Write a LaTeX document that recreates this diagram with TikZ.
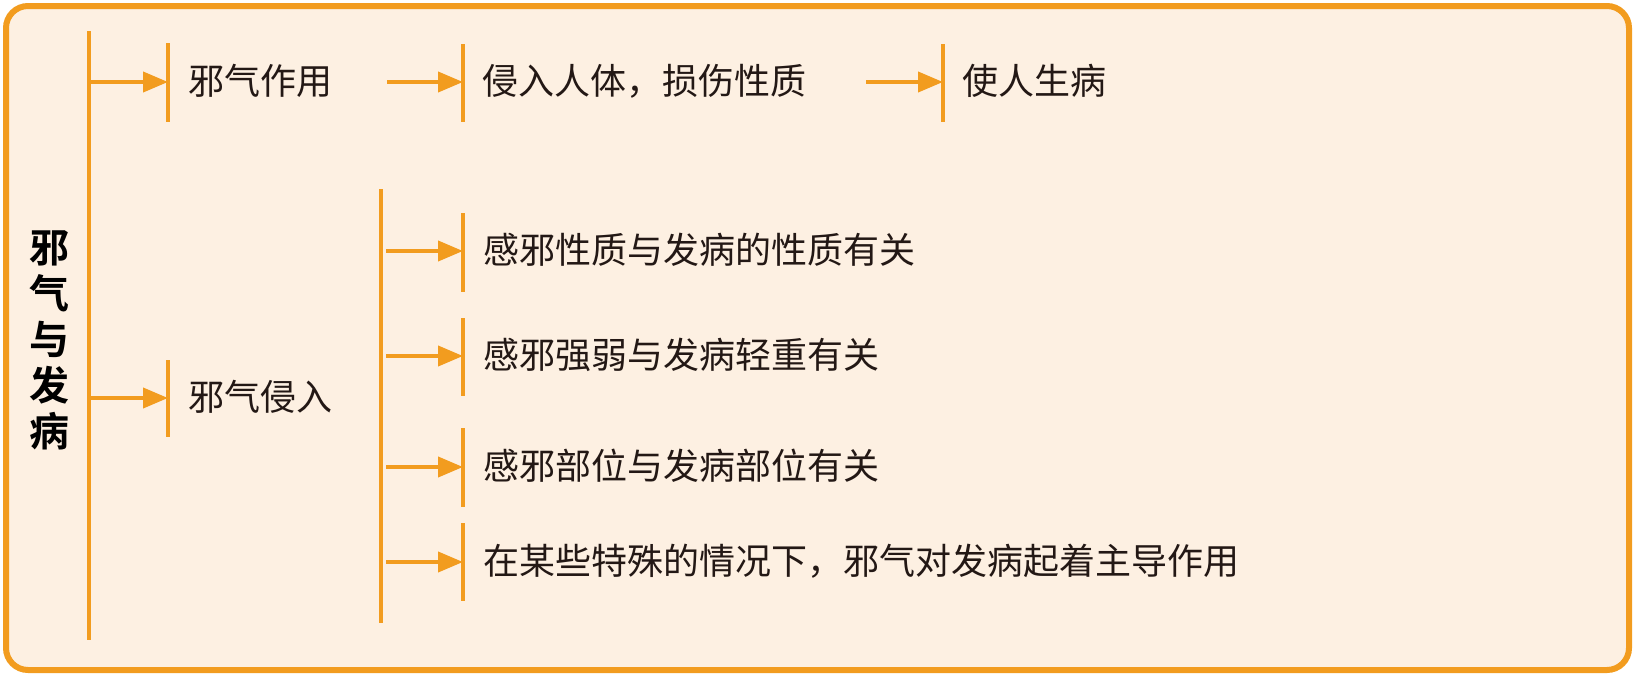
\documentclass[tikz,border=0pt]{standalone}
\usepackage{fontspec}
\newfontfamily\cjk[BoldFont={Noto Sans CJK SC Bold}]{Noto Sans CJK SC}
\usepackage{tikz}
\usetikzlibrary{arrows.meta, positioning}
\definecolor{xorange}{HTML}{F29C1F}
\definecolor{xfill}{HTML}{FDF0E2}
\definecolor{xtext}{HTML}{231815}
\tikzset{>={Triangle[length=25pt,width=20pt]}}
\tikzset{trunk/.style={draw=xorange, line width=4pt}, feed/.style={draw=xorange, fill=xorange, line width=4pt, ->}}

\begin{document}
\begin{tikzpicture}[x=1pt,y=-1pt]
		\useasboundingbox (0,0) rectangle (1634,675);
		\draw[xorange, fill=xfill, line width=6pt, rounded corners=22pt] (6,6) rectangle (1629,670);

		\node[font=\cjk\bfseries\fontsize{40}{46}\selectfont, align=center, inner sep=0pt] (root) at (50,340) {邪\\气\\与\\发\\病};

		\begin{scope}[every node/.append style={font=\cjk\fontsize{36}{46}\selectfont, text=xtext, inner sep=0pt, anchor=west, text height=30.2pt, text depth=4.3pt}]
			\node (a) at (188,82) {邪气作用};
			\node (a1) at (482,82) {侵入人体，损伤性质};
			\node (a2) at (962,82) {使人生病};
			\node (b) at (188,398) {邪气侵入};
			\node (b1) at (483,251) {感邪性质与发病的性质有关};
			\node (b2) at (483,356) {感邪强弱与发病轻重有关};
			\node (b3) at (483,467) {感邪部位与发病部位有关};
			\node (b4) at (483,562) {在某些特殊的情况下，邪气对发病起着主导作用};
		\end{scope}

		\coordinate (t0) at (89,31);
		\coordinate (t1) at (89,640);
		\coordinate (s0) at (381,189);
		\coordinate (s1) at (381,623);

		\draw[trunk] (t0) -- (t1);
		\draw[trunk] (s0) -- (s1);

		% bars in front of the texts
		\draw[trunk] ([xshift=-20pt,yshift=39pt]a.west) -- ([xshift=-20pt,yshift=-40pt]a.west);
		\draw[trunk] ([xshift=-19pt,yshift=38pt]a1.west) -- ([xshift=-19pt,yshift=-40pt]a1.west);
		\draw[trunk] ([xshift=-19pt,yshift=38pt]a2.west) -- ([xshift=-19pt,yshift=-40pt]a2.west);
		\draw[trunk] ([xshift=-20pt,yshift=38pt]b.west) -- ([xshift=-20pt,yshift=-39pt]b.west);
		\draw[trunk] ([xshift=-20pt,yshift=38pt]b1.west) -- ([xshift=-20pt,yshift=-41pt]b1.west);
		\draw[trunk] ([xshift=-20pt,yshift=38pt]b2.west) -- ([xshift=-20pt,yshift=-40pt]b2.west);
		\draw[trunk] ([xshift=-20pt,yshift=39pt]b3.west) -- ([xshift=-20pt,yshift=-40pt]b3.west);
		\draw[trunk] ([xshift=-20pt,yshift=39pt]b4.west) -- ([xshift=-20pt,yshift=-39pt]b4.west);

		\draw[feed] (t0 |- a.west) -- ([xshift=-20pt]a.west);
		\draw[feed] ([xshift=55pt]a.east) -- ([xshift=-19pt]a1.west);
		\draw[feed] ([xshift=60pt]a1.east) -- ([xshift=-19pt]a2.west);
		\draw[feed] (t0 |- b.west) -- ([xshift=-20pt]b.west);
		\draw[feed] ([xshift=5pt]s0 |- b1.west) -- ([xshift=-20pt]b1.west);
		\draw[feed] ([xshift=5pt]s0 |- b2.west) -- ([xshift=-20pt]b2.west);
		\draw[feed] ([xshift=5pt]s0 |- b3.west) -- ([xshift=-20pt]b3.west);
		\draw[feed] ([xshift=5pt]s0 |- b4.west) -- ([xshift=-20pt]b4.west);
	\end{tikzpicture}
\end{document}
